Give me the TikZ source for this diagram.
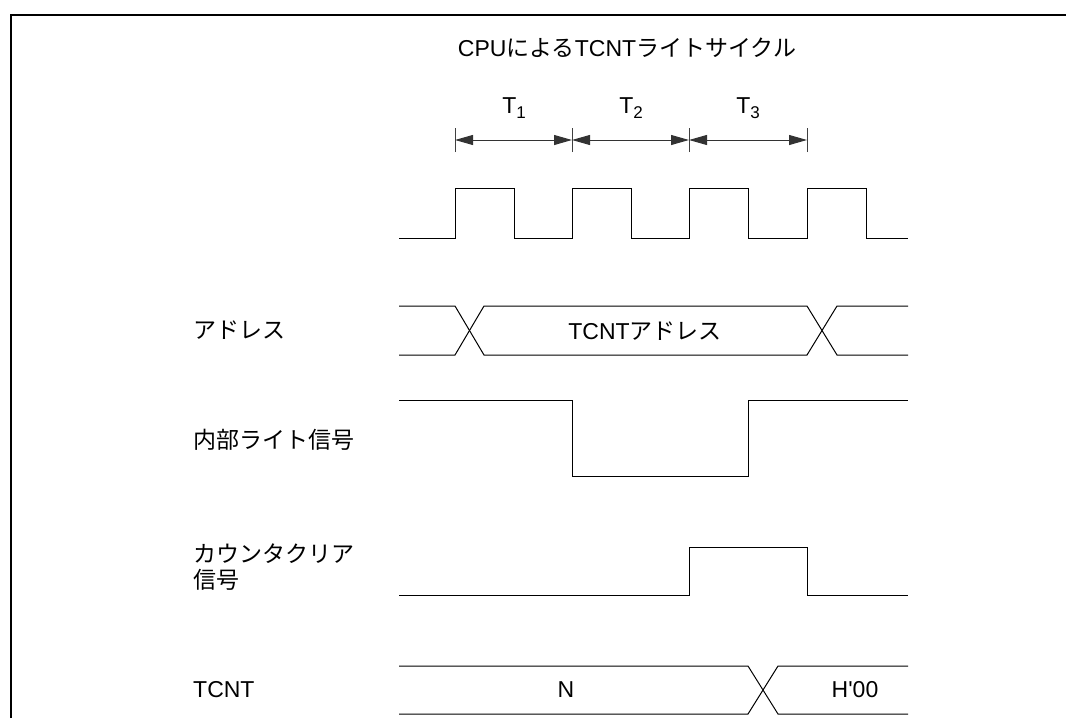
\documentclass[tikz,border=0pt]{standalone}
\usepackage{fontspec}
\setmainfont{Liberation Sans}
\newfontfamily\jpfont{Noto Sans CJK JP}
\newcommand{\jtext}[1]{{\jpfont #1}}
\newcommand{\tsub}[1]{T\raisebox{-0.4ex}{\fontsize{17}{17}\selectfont #1}}
\usetikzlibrary{arrows.meta, positioning}

\begin{document}
\begin{tikzpicture}[
    x=1pt, y=-1pt,
    font=\fontsize{23}{26}\selectfont,
    % Define styles
    signal/.style = {line width=1pt, draw=black},
    frame/.style = {line width=1.6pt, draw=black},
    tick/.style = {line width=0.9pt, draw=black!75},
    span/.style = {line width=1pt, draw=black!80, {Triangle[length=18pt,width=10pt]}-{Triangle[length=18pt,width=10pt]}},
    lbl/.style = {anchor=west, inner sep=0pt, align=left},
    val/.style = {inner sep=0pt}
]
\useasboundingbox (0,0) rectangle (1066,718);

% Frame
\draw[frame] (11,718) -- (11,15) -- (1066,15);

% Title and cycle labels
\node[val] (title) at (627,48) {CPU\jtext{による}TCNT\jtext{ライトサイクル}};
\node[val] (T1) at (514,108) {\tsub{1}};
\node[val] (T2) at (631,108) {\tsub{2}};
\node[val] (T3) at (748,108) {\tsub{3}};

% Cycle boundaries
\coordinate (c0) at (455,140);
\coordinate (c1) at (572,140);
\coordinate (c2) at (689,140);
\coordinate (c3) at (807,140);
\foreach \c in {c0,c1,c2,c3}
    \draw[tick] ([yshift=-12pt]\c) -- ([yshift=12pt]\c);

% Arrows
\draw[span] (c0) -- (c1);
\draw[span] (c1) -- (c2);
\draw[span] (c2) -- (c3);

% Signal names
\node[lbl] (addr) at (193,330) {\jtext{アドレス}};
\node[lbl] (wr) at (193,440) {\jtext{内部ライト信号}};
\node[lbl] (clr) at (193,567) {\jtext{カウンタクリア}\\\jtext{信号}};
\node[lbl] (tcnt) at (193,690) {TCNT};

% Clock
\draw[signal] (399,238) -| (455,188) -| (514,238) -| (572,188) -| (631,238)
    -| (689,188) -| (748,238) -| (807,188) -| (866,238) -- (908,238);

% Address bus
\draw[signal] (399,306) -- (455,306) -- (484,355) -- (807,355) -- (837,306) -- (908,306);
\draw[signal] (399,355) -- (455,355) -- (484,306) -- (807,306) -- (837,355) -- (908,355);
\node[val] (addrval) at (645,331) {TCNT\jtext{アドレス}};

% Internal write signal
\draw[signal] (399,400) -| (572,476) -| (748,400) -- (908,400);

% Counter clear signal
\draw[signal] (399,595) -| (689,547) -| (807,595) -- (908,595);

% TCNT value
\draw[signal] (399,666) -- (748,666) -- (778,714) -- (908,714);
\draw[signal] (399,714) -- (748,714) -- (778,666) -- (908,666);
\node[val] (nval) at (566,690) {N};
\node[val] (hval) at (855,690) {H\textquotesingle 00};

\end{tikzpicture}
\end{document}
